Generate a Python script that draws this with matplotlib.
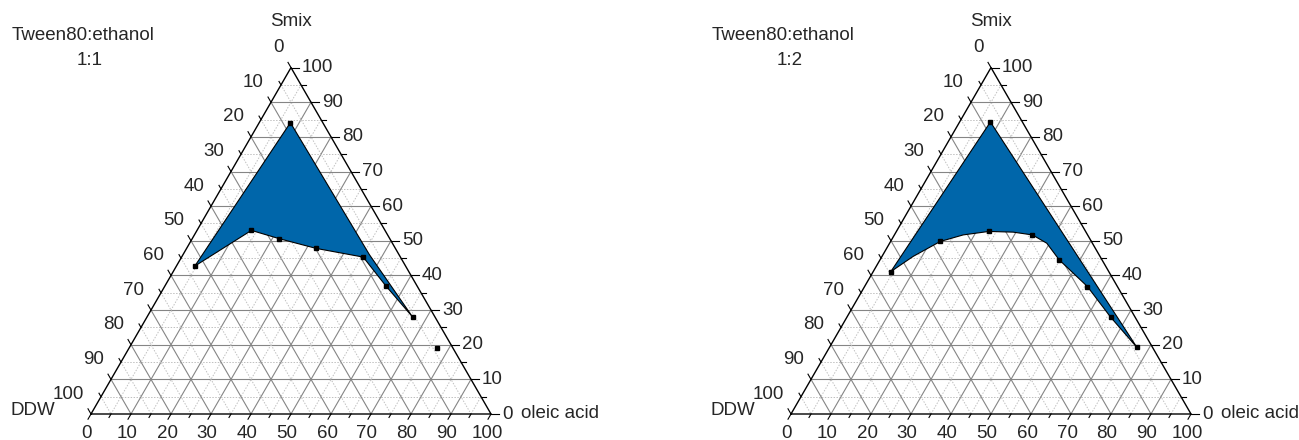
import numpy as np
import matplotlib
matplotlib.use("Agg")
import matplotlib.pyplot as plt

plt.rcParams['font.family'] = ['Liberation Sans', 'DejaVu Sans']

# ---------------- data (oleic acid %, Smix %) ----------------
title_text = "Tween80:ethanol"
ratio_labels = ["1:1", "1:2"]
axis_top = "Smix"
axis_left = "DDW"
axis_right = "oleic acid"
tick_values = list(range(0, 101, 10))

# panel 1 (1:1) region boundary
p1_oil = [7.8, 4.6, 13.6, 21.8, 32.4, 45.4, 55.2, 66.4, 46.6]
p1_smix = [84.1, 42.7, 53.0, 50.6, 47.8, 45.3, 37.0, 28.0, 46.0]
p1_mark_oil = [7.8, 4.6, 13.6, 21.8, 32.4, 45.4, 55.2, 66.4, 76.9]
p1_mark_smix = [84.1, 42.7, 53.0, 50.6, 47.8, 45.3, 37.0, 28.0, 19.1]

# panel 2 (1:2) region boundary
p2_oil = [7.7, 4.4, 7.8, 12.4, 17.2, 23.1, 29.3, 34.5, 39.3, 44.8, 55.7, 66.0, 76.9]
p2_smix = [84.3, 41.1, 45.5, 49.8, 51.7, 52.7, 52.5, 51.7, 49.3, 44.5, 36.8, 27.9, 19.2]
p2_mark_oil = [7.7, 4.4, 12.4, 23.1, 34.5, 44.8, 55.7, 66.0, 76.9]
p2_mark_smix = [84.3, 41.1, 49.8, 52.7, 51.7, 44.5, 36.8, 27.9, 19.2]

panels = [
    dict(oil=p1_oil, smix=p1_smix, moil=p1_mark_oil, msmix=p1_mark_smix, ratio=ratio_labels[0], left=91),
    dict(oil=p2_oil, smix=p2_smix, moil=p2_mark_oil, msmix=p2_mark_smix, ratio=ratio_labels[1], left=791),
]

FILL = "#0066aa"
TXT = "#262626"
H = np.sqrt(3) / 2
PX = 4.0  # pixels per data unit


def to_xy(a, s):
    a = np.asarray(a, dtype=float)
    s = np.asarray(s, dtype=float)
    return a + s / 2.0, s * H


W, HT = 1299, 440
fig = plt.figure(figsize=(W / 100, HT / 100), dpi=100)
base_px = 414

for i, p in enumerate(panels):
    x0 = i * W / 2
    ax = fig.add_axes([x0 / W, 0, (W / 2) / W, 1])
    ax.set_xlim((x0 - p["left"]) / PX, (x0 + W / 2 - p["left"]) / PX)
    ax.set_ylim(-(HT - base_px) / PX, base_px / PX)
    ax.axis("off")

    # grid
    for k in range(5, 100, 5):
        major = k % 10 == 0
        kw = dict(color="#858585", lw=0.8, ls="-") if major else dict(color="#c0c0c0", lw=0.7, ls=(0, (1.5, 1.5)))
        xs, ys = to_xy([0, 100 - k], [k, k])
        ax.plot(xs, ys, zorder=1, **kw)
        xs, ys = to_xy([k, k], [0, 100 - k])
        ax.plot(xs, ys, zorder=1, **kw)
        xs, ys = to_xy([0, 100 - k], [100 - k, 0])
        ax.plot(xs, ys, zorder=1, **kw)

    # triangle border
    xs, ys = to_xy([0, 100, 0, 0], [0, 0, 100, 0])
    ax.plot(xs, ys, color="black", lw=1.0, zorder=3)

    # ticks
    for k in range(0, 101, 5):
        L = 1.5 if k % 10 == 0 else 1.0
        bx, by = to_xy(k, 0)
        ax.plot([bx, bx - 0.5 * L], [by, by - H * L], color="black", lw=0.8, zorder=3)
        lx, ly = to_xy(0, 100 - k)
        ax.plot([lx, lx - 0.5 * L], [ly, ly + H * L], color="black", lw=0.8, zorder=3)
        rx, ry = to_xy(100 - k, k)
        ax.plot([rx, rx + 1.3 * L], [ry, ry], color="black", lw=0.8, zorder=3)

    fs = 13.5
    for k in tick_values:
        bx, by = to_xy(k, 0)
        ax.text(bx - 1.0, by - 4.75, str(k), ha="center", va="center", fontsize=fs, color=TXT)
        lx, ly = to_xy(0, 100 - k)
        ax.text(lx - 1.75, ly + 5.0, str(k), ha="right", va="center", fontsize=fs, color=TXT)
        rx, ry = to_xy(100 - k, k)
        ax.text(rx + 2.75, ry, str(k), ha="left", va="center", fontsize=fs, color=TXT)

    # region
    xs, ys = to_xy(p["oil"], p["smix"])
    ax.fill(xs, ys, facecolor=FILL, edgecolor="black", lw=0.8, zorder=4)
    mx, my = to_xy(p["moil"], p["msmix"])
    ax.plot(mx, my, ls="none", marker="s", ms=3.2, color="black", zorder=5)

    # axis names
    tx, ty = to_xy(0, 100)
    ax.text(tx, ty + 11.6, axis_top, ha="center", va="center", fontsize=fs, color=TXT)
    ax.text(-14.5, 1.0, axis_left, ha="center", va="center", fontsize=fs, color=TXT)
    ax.text(107.5, 0.25, axis_right, ha="left", va="center", fontsize=fs, color=TXT)
    # title
    ax.text(-2.0, 94.75, title_text, ha="center", va="center", fontsize=fs, color=TXT)
    ax.text(-0.25, 88.5, p["ratio"], ha="center", va="center", fontsize=fs, color=TXT)

fig.savefig("out.png", dpi=100)
